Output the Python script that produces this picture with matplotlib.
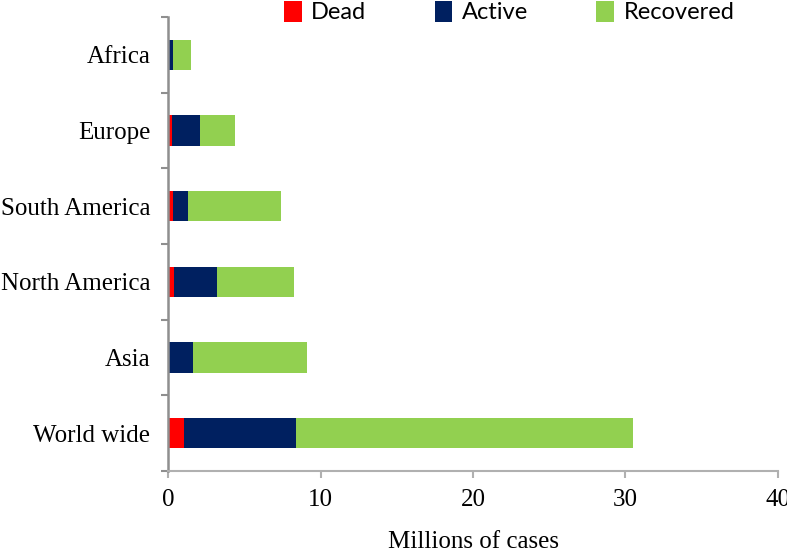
import numpy as np
import matplotlib.pyplot as plt

# regions, bottom to top as drawn
regions = ["World wide", "Asia", "North America", "South America", "Europe", "Africa"]
dead = [1.0, 0.05, 0.35, 0.3, 0.26, 0.03]
active = [7.35, 1.57, 2.82, 1.0, 1.8, 0.25]
recovered = [22.15, 7.46, 5.1, 6.1, 2.34, 1.2]

series = [("Dead", dead, "#ff0000"),
          ("Active", active, "#002060"),
          ("Recovered", recovered, "#92d050")]

fig = plt.figure(figsize=(7.87, 5.52), dpi=100)
ax = fig.add_axes([0.2141, 0.1467, 0.7739, 0.8223])

y = np.arange(len(regions))
left = np.zeros(len(regions))
for name, vals, col in series:
    ax.barh(y, vals, left=left, height=0.4, color=col, label=name)
    left += np.array(vals)

ax.set_xlim(0, 40)
ax.set_ylim(-0.5, len(regions) - 0.5)

serif = "Liberation Serif"
ax.set_yticks(y)
ax.set_yticklabels(regions, family=serif, fontsize=18)
ax.set_yticks(np.arange(-0.5, len(regions)), minor=True)
ax.tick_params(axis="y", which="major", length=0, pad=13)
ax.tick_params(axis="y", which="minor", length=5, width=1.5, color="#8f8f8f")

ax.set_xticks([0, 10, 20, 30, 40])
ax.set_xticklabels(["0", "10", "20", "30", "40"], family=serif, fontsize=18)
ax.tick_params(axis="x", length=5, width=1.5, color="#b0b0b0", pad=8)
ax.set_xlabel("Millions of cases", family=serif, fontsize=18, labelpad=14)

for s in ["top", "right"]:
    ax.spines[s].set_visible(False)
ax.spines["left"].set_color("#8f8f8f")
ax.spines["left"].set_linewidth(1.8)
ax.spines["bottom"].set_color("#b0b0b0")
ax.spines["bottom"].set_linewidth(1.5)

fig.legend(loc="center", bbox_to_anchor=(0.647, 0.978), ncol=3, frameon=False,
           prop={"family": "Lato", "size": 17}, handlelength=0.75, handleheight=1.0,
           handletextpad=0.4, columnspacing=2.9, borderaxespad=0)

fig.savefig("out.png", dpi=100)
